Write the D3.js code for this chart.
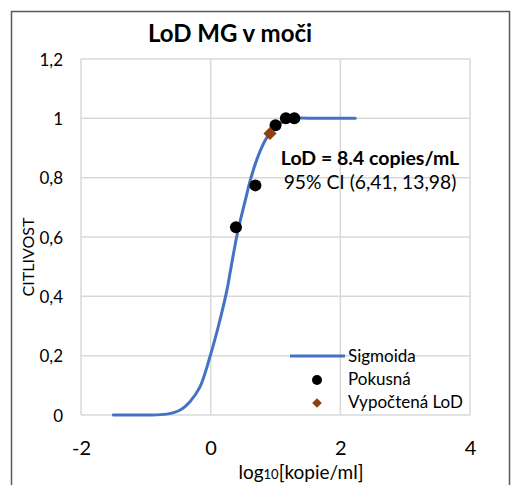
<!DOCTYPE html>
<html>
<head>
<meta charset="utf-8">
<script src="https://cdn.jsdelivr.net/npm/d3@7"></script>
<style>
  body { margin: 0; background: #fff; }
  text { font-family: Lato, "Noto Sans", sans-serif; fill: #000; }
</style>
</head>
<body>
<div id="chart"></div>
<script>
'use strict';

const width = 511;
const height = 485;

// fitted sigmoid
const curveX = [-1.5, -1.0, -0.68, -0.47, -0.32, -0.165, -0.01, 0.12, 0.25, 0.30, 0.41, 0.53, 0.61, 0.71, 0.84, 0.97, 1.12, 1.33, 1.6, 2.23];
const curveY = [0, 0, 0.003, 0.017, 0.045, 0.095, 0.197, 0.30, 0.42, 0.48, 0.61, 0.72, 0.79, 0.86, 0.925, 0.966, 0.989, 1.0, 1.0, 1.0];

// measured points (Pokusná)
const pointX = [0.39, 0.69, 1.0, 1.16, 1.29];
const pointY = [0.633, 0.774, 0.977, 1.0, 1.0];

// computed LoD
const lodX = [0.915];
const lodY = [0.949];

const xTicks = [-2, 0, 2, 4];
const yTicks = [0, 0.2, 0.4, 0.6, 0.8, 1.0, 1.2];
const legendLabels = ['Sigmoida', 'Pokusná', 'Vypočtená LoD'];

const blue = '#4472C4';
const brown = '#8C4110';

const x = d3.scaleLinear().domain([-2, 4]).range([81, 470]);
const y = d3.scaleLinear().domain([0, 1.2]).range([415, 59]);

let svg = d3.select('#chart').append('svg')
    .attr('width', width)
    .attr('height', height);

svg.append('rect')
    .attr('width', width)
    .attr('height', height)
    .attr('fill', '#fff');

// chart frame
svg.append('rect')
    .attr('x', 11.5)
    .attr('y', 11.5)
    .attr('width', 498)
    .attr('height', 520)
    .attr('fill', 'none')
    .attr('stroke', '#595959')
    .attr('stroke-width', 1.5);

// gridlines
let grid = svg.append('g').attr('stroke', '#d9d9d9').attr('stroke-width', 1.5);
grid.selectAll('.gx').data(xTicks).enter().append('line')
    .attr('x1', d => x(d)).attr('x2', d => x(d))
    .attr('y1', y(0)).attr('y2', y(1.2));
grid.selectAll('.gy').data(yTicks).enter().append('line')
    .attr('x1', x(-2)).attr('x2', x(4))
    .attr('y1', d => y(d)).attr('y2', d => y(d));

// axes (labels only, Excel style)
const yAxis = d3.axisLeft(y).tickValues(yTicks).tickSize(0).tickPadding(0)
    .tickFormat(d => d3.format('.1~f')(d).replace('.', ','));
let gy = svg.append('g').attr('transform', 'translate(63,0)').call(yAxis);
gy.select('.domain').remove();
gy.selectAll('text').style('font-size', '17px').attr('dy', '0.36em');

const xAxis = d3.axisBottom(x).tickValues(xTicks).tickSize(0).tickPadding(0)
    .tickFormat(d => String(d));
let gx = svg.append('g').attr('transform', 'translate(0,440)').call(xAxis);
gx.select('.domain').remove();
gx.selectAll('text').style('font-size', '20px').attr('dy', '0.75em');

// title
svg.append('text')
    .attr('x', 230).attr('y', 42)
    .attr('text-anchor', 'middle')
    .style('font-size', '24px').style('font-weight', 'bold')
    .text('LoD MG v moči');

// axis titles
svg.append('text')
    .attr('transform', 'translate(34,257) rotate(-90)')
    .attr('text-anchor', 'middle')
    .style('font-size', '16px')
    .text('CITLIVOST');

let xt = svg.append('text')
    .attr('x', 301).attr('y', 479)
    .attr('text-anchor', 'middle')
    .style('font-size', '19px');
xt.append('tspan').text('log');
xt.append('tspan').style('font-size', '13px').text('10');
xt.append('tspan').text('[kopie/ml]');

// sigmoid
const line = d3.line()
    .x(d => x(d[0]))
    .y(d => y(d[1]))
    .curve(d3.curveCatmullRom.alpha(0.5));

svg.append('path')
    .datum(d3.zip(curveX, curveY))
    .attr('d', line)
    .attr('fill', 'none')
    .attr('stroke', blue)
    .attr('stroke-width', 3)
    .attr('stroke-linecap', 'round');

// measured points
svg.selectAll('.pt').data(d3.zip(pointX, pointY)).enter().append('circle')
    .attr('cx', d => x(d[0]))
    .attr('cy', d => y(d[1]))
    .attr('r', 6)
    .attr('fill', '#000');

// LoD diamond
const diamond = d3.symbol().type(d3.symbolDiamond2).size(110);
svg.selectAll('.lod').data(d3.zip(lodX, lodY)).enter().append('path')
    .attr('d', diamond)
    .attr('transform', d => 'translate(' + x(d[0]) + ',' + y(d[1]) + ')')
    .attr('fill', brown);

// annotation
svg.append('text')
    .attr('x', 370).attr('y', 165)
    .attr('text-anchor', 'middle')
    .style('font-size', '19.5px').style('font-weight', 'bold')
    .text('LoD = 8.4 copies/mL');
svg.append('text')
    .attr('x', 370).attr('y', 189)
    .attr('text-anchor', 'middle')
    .style('font-size', '19.3px')
    .text('95% CI (6,41, 13,98)');

// legend
let legend = svg.append('g');
legend.append('line')
    .attr('x1', 290).attr('x2', 345)
    .attr('y1', 356).attr('y2', 356)
    .attr('stroke', blue).attr('stroke-width', 3);
legend.append('circle')
    .attr('cx', 317).attr('cy', 380).attr('r', 5).attr('fill', '#000');
legend.append('path')
    .attr('d', d3.symbol().type(d3.symbolDiamond2).size(60))
    .attr('transform', 'translate(317,403)')
    .attr('fill', brown);
legend.selectAll('.lt').data(legendLabels).enter().append('text')
    .attr('x', 348)
    .attr('y', (d, i) => 362 + i * 23)
    .style('font-size', '17px')
    .text(d => d);
</script>
</body>
</html>
